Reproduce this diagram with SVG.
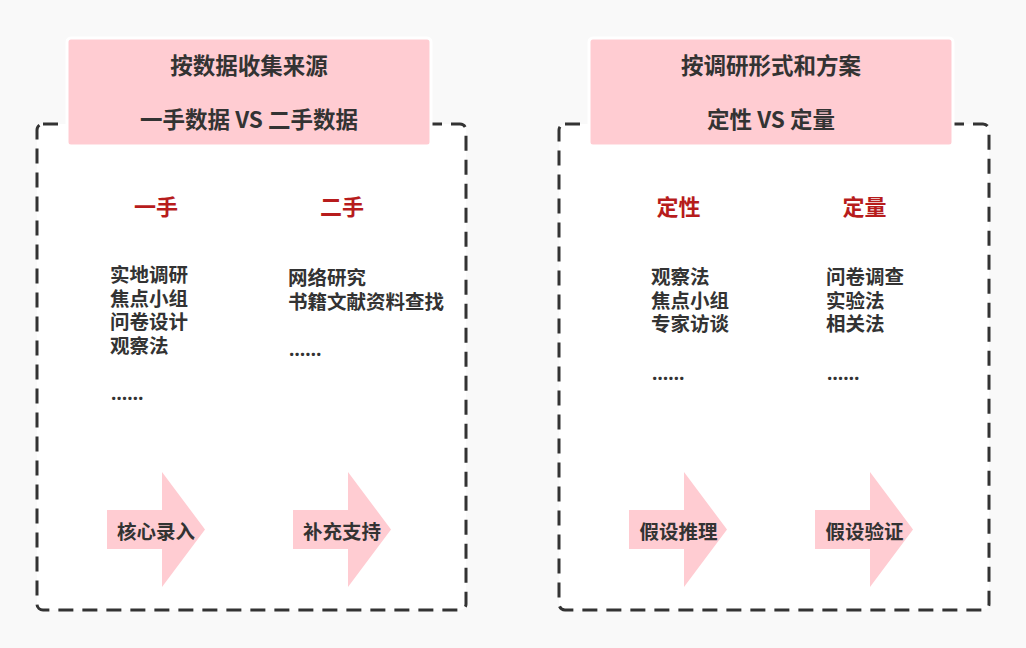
<svg xmlns="http://www.w3.org/2000/svg" width="1026" height="648" viewBox="0 0 1026 648">
<style>
.frame{fill:#ffffff;stroke:#333333;stroke-width:3;stroke-dasharray:15 9}
.head{fill:#ffccd2;stroke:#ffffff;stroke-width:3}
.t{font-family:"Noto Sans CJK SC","Noto Sans",sans-serif;font-weight:bold;fill:#333333}
.h{font-size:22.5px;text-anchor:middle}
.red{font-size:22px;text-anchor:middle;fill:#b71c1c}
.l{font-size:19.5px}
.dots{font-family:"Noto Sans",sans-serif;font-size:19px;font-weight:bold;fill:#333333}
.arr{fill:#ffccd2}
.a{font-size:19.5px;text-anchor:middle}
</style>
<defs>
<polygon id="arrow" points="0,38 55,38 55,0 98,57.5 55,115 55,77 0,77"/>
</defs>
<rect width="1026" height="648" fill="#f9f9f9"/>

<g id="left-panel">
<rect class="frame" x="37" y="124" width="429" height="486" rx="6"/>
<rect class="head" x="67" y="38" width="364" height="108" rx="4"/>
<text class="t h" x="249" y="74">按数据收集来源</text>
<text class="t h" x="249" y="128">一手数据 VS 二手数据</text>
</g>

<g id="first-hand">
<text class="t red" x="156" y="215">一手</text>
<text class="t l" x="110" y="282"><tspan x="110">实地调研</tspan><tspan x="110" dy="23.5">焦点小组</tspan><tspan x="110" dy="23.5">问卷设计</tspan><tspan x="110" dy="23.5">观察法</tspan></text>
<text class="dots" x="111" y="400">……</text>
<use href="#arrow" class="arr" x="107" y="472"/>
<text class="t a" x="156" y="539">核心录入</text>
</g>

<g id="second-hand">
<text class="t red" x="342" y="215">二手</text>
<text class="t l" x="288" y="285"><tspan x="288">网络研究</tspan><tspan x="288" dy="24">书籍文献资料查找</tspan></text>
<text class="dots" x="289" y="356">……</text>
<use href="#arrow" class="arr" x="293" y="472"/>
<text class="t a" x="342" y="539">补充支持</text>
</g>

<g id="right-panel">
<rect class="frame" x="559" y="124" width="430" height="486" rx="6"/>
<rect class="head" x="589" y="38" width="364" height="108" rx="4"/>
<text class="t h" x="771" y="74">按调研形式和方案</text>
<text class="t h" x="771" y="128">定性 VS 定量</text>
</g>

<g id="qualitative">
<text class="t red" x="678.5" y="215">定性</text>
<text class="t l" x="651" y="284"><tspan x="651">观察法</tspan><tspan x="651" dy="23.5">焦点小组</tspan><tspan x="651" dy="23.5">专家访谈</tspan></text>
<text class="dots" x="652" y="380">……</text>
<use href="#arrow" class="arr" x="629" y="472"/>
<text class="t a" x="678.5" y="539">假设推理</text>
</g>

<g id="quantitative">
<text class="t red" x="864.5" y="215">定量</text>
<text class="t l" x="826" y="284"><tspan x="826">问卷调查</tspan><tspan x="826" dy="23.5">实验法</tspan><tspan x="826" dy="23.5">相关法</tspan></text>
<text class="dots" x="827" y="380">……</text>
<use href="#arrow" class="arr" x="815" y="472"/>
<text class="t a" x="864.5" y="539">假设验证</text>
</g>

<g id="connectors"></g>
</svg>
